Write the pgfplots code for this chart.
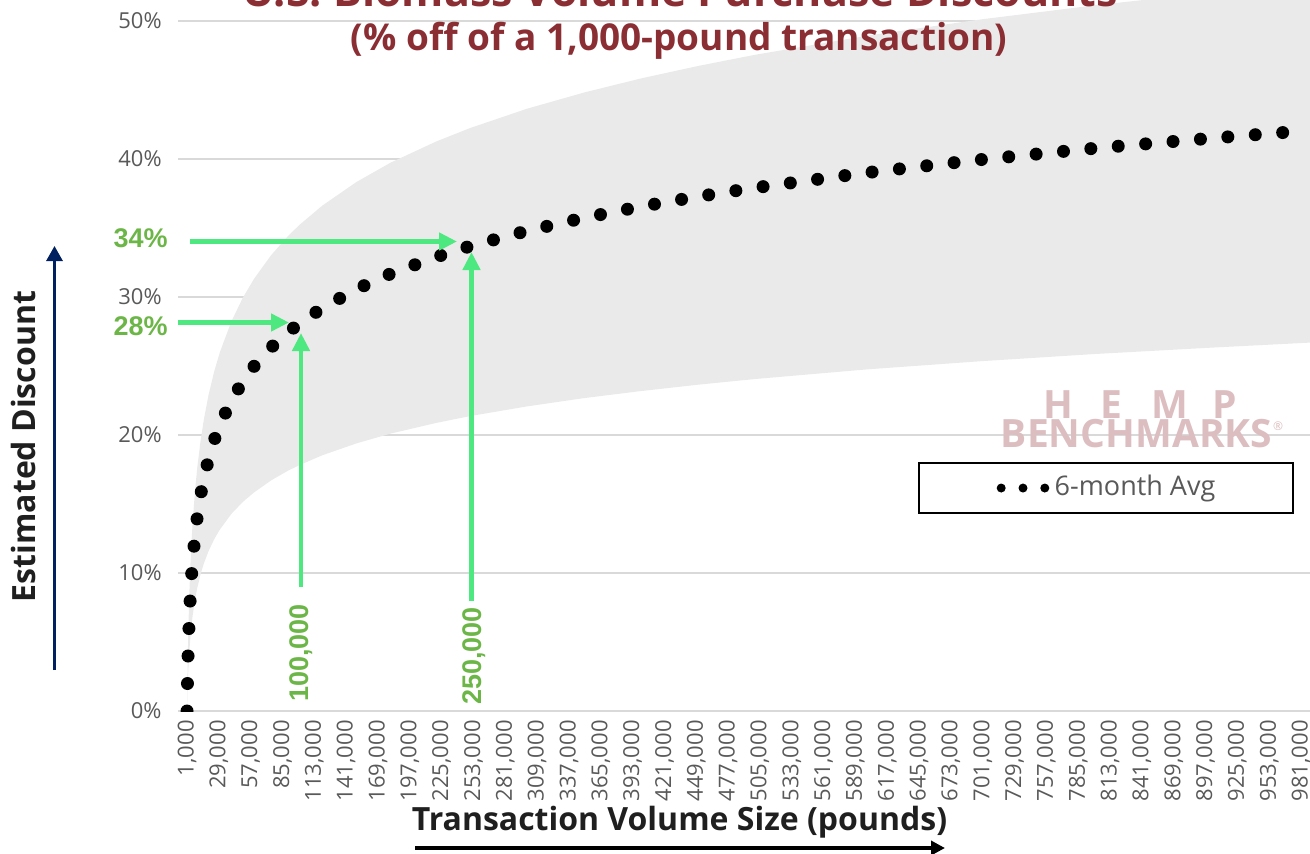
\documentclass[border=0pt]{standalone}
\usepackage{fontspec}
\setmainfont{Open Sans}
\newfontfamily\arial{Liberation Sans}
\usepackage{pgfplots}
\pgfplotsset{compat=1.18}
\usepgfplotslibrary{fillbetween}
\usetikzlibrary{arrows.meta}
\definecolor{band}{RGB}{234,234,234}
\definecolor{gridc}{RGB}{217,217,217}
\definecolor{tickc}{RGB}{89,89,89}
\definecolor{titlec}{RGB}{139,46,52}
\definecolor{arrowg}{RGB}{77,232,128}
\definecolor{textg}{RGB}{108,182,72}
\definecolor{navy}{RGB}{0,32,96}
\definecolor{hemp}{RGB}{220,190,193}
\begin{document}
\begin{tikzpicture}[x=0.5pt,y=0.5pt]
\begin{axis}[
  at={(89pt,71pt)}, anchor=south west,
  scale only axis, width=566pt, height=355.5pt,
  xmin=-6.92, xmax=988.9, ymin=0, ymax=51.52,
  set layers,
  axis line style={draw=none},
  major tick length=0pt,
  ytick={0,10,20,30,40,50},
  yticklabels={0\%,10\%,20\%,30\%,40\%,50\%},
  ymajorgrids, grid style={gridc, line width=0.75pt},
  xtick={1,29,...,981},
  xticklabels={{1,000},{29,000},{57,000},{85,000},{113,000},{141,000},{169,000},{197,000},{225,000},{253,000},{281,000},{309,000},{337,000},{365,000},{393,000},{421,000},{449,000},{477,000},{505,000},{533,000},{561,000},{589,000},{617,000},{645,000},{673,000},{701,000},{729,000},{757,000},{785,000},{813,000},{841,000},{869,000},{897,000},{925,000},{953,000},{981,000}},
  tick label style={font=\fontsize{11}{13}\selectfont, text=tickc},
  yticklabel style={inner sep=0pt},
  yticklabel shift=8pt,
  xticklabel style={rotate=90, anchor=east, inner sep=0pt},
  xticklabel shift=4.5pt,
  legend style={at={(0.8198,0.3136)}, anchor=center, draw=black, line width=1pt,
    fill=white, inner xsep=38.75pt, inner ysep=6.25pt, column sep=2.5pt,
    nodes={inner sep=0pt, text depth=0.25em},
    font=\fontsize{13.5}{16}\selectfont, text=tickc},
]
\addplot[name path=U, draw=none, forget plot] coordinates {
(1,0) (1.5,3.10) (2,5.30) (3,8.41) (4,10.60) (5,12.31) (6,13.71) (8,15.90) (10,17.62) (13,19.62) (16,21.21) (20,22.92) (25,24.63) (30,26.02) (40,28.22) (50,29.93) (60,31.32) (75,33.03) (90,34.43) (100,35.23) (120,36.62) (150,38.33) (180,39.73) (220,41.26) (250,42.24) (300,43.64) (350,44.81) (400,45.83) (450,46.73) (500,47.54) (600,48.94) (700,50.12) (800,51.14) (900,52.04) (990,52.77)};
\addplot[name path=L, draw=none, forget plot] coordinates {
(1,0) (1.5,1.57) (2,2.68) (3,4.25) (4,5.36) (5,6.23) (6,6.93) (8,8.05) (10,8.91) (13,9.93) (16,10.73) (20,11.59) (25,12.46) (30,13.16) (40,14.28) (50,15.14) (60,15.84) (75,16.71) (90,17.42) (100,17.82) (120,18.53) (150,19.39) (180,20.10) (220,20.87) (250,21.37) (300,22.07) (350,22.67) (400,23.18) (450,23.64) (500,24.05) (600,24.76) (700,25.35) (800,25.87) (900,26.32) (990,26.70)};
\addplot[band, draw=none, on layer=axis background, forget plot] fill between[of=U and L];
\addplot[black, line width=6.5pt, line cap=round, dash pattern=on 0pt off 13.75pt,
  legend image code/.code={\draw[black, line width=4.5pt, line cap=round, dash pattern=on 0pt off 10.9pt] (0pt,0pt) -- (22pt,0pt);}]
coordinates {
(1,0) (1.5,2.47) (2,4.23) (3,6.70) (4,8.46) (5,9.82) (6,10.93) (8,12.68) (10,14.05) (13,15.65) (16,16.91) (20,18.27) (25,19.64) (30,20.75) (40,22.50) (50,23.86) (60,24.98) (75,26.34) (90,27.45) (100,28.09) (120,29.20) (150,30.57) (180,31.68) (220,32.90) (250,33.68) (300,34.79) (350,35.73) (400,36.55) (450,37.27) (500,37.91) (600,39.02) (700,39.96) (800,40.78) (900,41.49) (981,42.02)};
\addlegendentry{6-month Avg}
\end{axis}
% titles
\node[anchor=base, text=titlec, font=\fontsize{21.5}{25}\selectfont\bfseries] at (680,846) {U.S. Biomass Volume Purchase Discounts};
\node[anchor=base, text=titlec, font=\fontsize{18.5}{22}\selectfont\bfseries] at (679,802) {(\% off of a 1,000-pound transaction)};
% axis titles
\node[anchor=base, text=black!88, font=\fontsize{16}{19}\selectfont\bfseries] at (679.5,23) {Transaction Volume Size (pounds)};
\draw[black, line width=2.3pt, -{Triangle[length=7pt,width=7pt]}] (415,5) -- (945,5);
\node[anchor=base, rotate=90, text=black!88, font=\fontsize{16}{19}\selectfont\bfseries] at (35,406.5) {Estimated Discount};
\draw[navy, line width=1.5pt, -{Triangle[length=7.5pt,width=8pt]}] (54.5,183) -- (54.5,607);
% annotations
\draw[arrowg, line width=2.3pt, -{Triangle[length=9pt,width=8.5pt]}] (190,611.5) -- (457,611.5);
\draw[arrowg, line width=2.3pt, -{Triangle[length=9pt,width=8.5pt]}] (178,530.5) -- (289,530.5);
\draw[arrowg, line width=2.3pt, -{Triangle[length=9pt,width=8.5pt]}] (301,266) -- (301,520);
\draw[arrowg, line width=2.3pt, -{Triangle[length=9pt,width=8.5pt]}] (471.5,252) -- (471.5,601);
\node[anchor=base east, inner sep=0pt, text=textg, font=\arial\fontsize{13.5}{16}\selectfont\bfseries] at (168,605) {34\%};
\node[anchor=base east, inner sep=0pt, text=textg, font=\arial\fontsize{13.5}{16}\selectfont\bfseries] at (168,518) {28\%};
\node[anchor=base, rotate=90, text=textg, font=\arial\fontsize{13.5}{16}\selectfont\bfseries] at (308,200) {100,000};
\node[anchor=base, rotate=90, text=textg, font=\arial\fontsize{13.5}{16}\selectfont\bfseries] at (481,197) {250,000};
% watermark
\begin{scope}[every node/.style={anchor=base, text=hemp, font=\fontsize{19.5}{22}\selectfont\bfseries, inner sep=0pt}]
\node at (1058,435) {H};
\node at (1111,435) {E};
\node at (1170,435) {M};
\node at (1225,435) {P};
\node at (1136.5,406) {BENCHMARKS};
\node[font=\fontsize{6}{7}\selectfont] at (1278,423) {®};
\end{scope}
\pgfresetboundingbox
\useasboundingbox (0,0) rectangle (1310,853);
\end{tikzpicture}
\end{document}
